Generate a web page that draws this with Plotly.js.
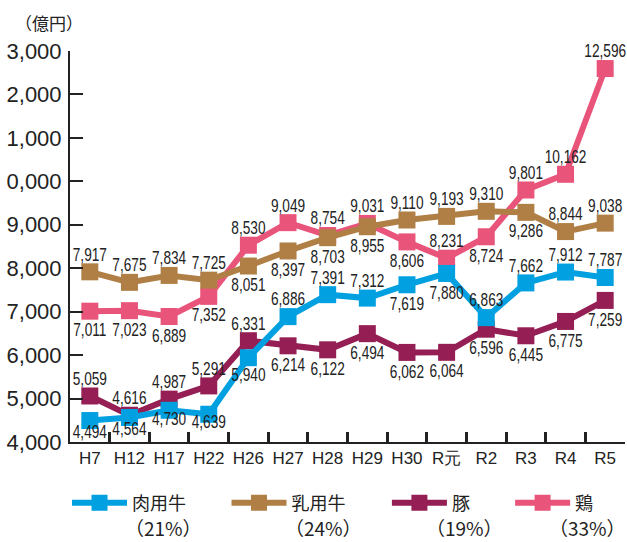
<!DOCTYPE html>
<html>
<head>
<meta charset="utf-8">
<script src="https://cdn.plot.ly/plotly-3.0.1.min.js"></script>
<style>
html,body{margin:0;padding:0;background:#fff;}
#chart{width:627px;height:542px;}
</style>
</head>
<body>
<div id="chart"></div>
<script>
// ---- data ----
const categories = ["H7","H12","H17","H22","H26","H27","H28","H29","H30","R元","R2","R3","R4","R5"];
const beefCattle = [4494,4564,4730,4639,5940,6886,7391,7312,7619,7880,6863,7662,7912,7787];
const dairyCattle = [7917,7675,7834,7725,8051,8397,8703,8955,9110,9193,9310,9286,8844,9038];
const pigs = [5059,4616,4987,5291,6331,6214,6122,6494,6062,6064,6596,6445,6775,7259];
const chickens = [7011,7023,6889,7352,8530,9049,8754,9031,8606,8231,8724,9801,10162,12596];
const seriesNames = ["肉用牛","乳用牛","豚","鶏"];
const shares = ["（21%）","（24%）","（19%）","（33%）"];
const yTickValues = [4000,5000,6000,7000,8000,9000,10000,11000,12000,13000];
const yTickLabels = ["4,000","5,000","6,000","7,000","8,000","9,000","0,000","1,000","2,000","3,000"];
const unitLabel = "（億円）";

// ---- label placement (style) ----
const T = "top center", B = "bottom center";
const beefPos  = [B,B,B,B,B,T,T,T,B,B,T,T,T,T];
const dairyPos = [T,T,T,T,B,B,B,B,T,T,T,B,T,T];
const pigPos   = [T,T,T,T,T,B,B,B,B,B,B,B,B,B];
const chickPos = [B,B,B,B,T,T,T,T,B,T,B,T,T,T];
// extra vertical nudges (px) for crowded labels near the x axis
const beefNudge = [-8,-8,-10,-11,-2,0,0,0,0,0,0,0,0,0];

const colors = {beef:"#00a0e1", dairy:"#b07f45", pig:"#951e54", chick:"#e9547b"};
const labelFont = {family:"'Liberation Sans', Arial, sans-serif", size:18, color:"#222"};

function mk(name, y, color, pos, legendId){
  return {
    type:"scatter", mode:"lines+markers+text", name:name,
    x:categories, y:y,
    line:{color:color, width:6},
    marker:{symbol:"square", size:17, color:color},
    texttemplate:"%{y:,}", textposition:pos, textfont:labelFont,
    cliponaxis:false, hoverinfo:"skip",
    legend:legendId
  };
}

// draw order: chickens, pigs, dairy, beef (beef on top)
const data = [
  mk(seriesNames[3], chickens, colors.chick, chickPos, "legend4"),
  mk(seriesNames[2], pigs, colors.pig, pigPos, "legend3"),
  mk(seriesNames[1], dairyCattle, colors.dairy, dairyPos, "legend2"),
  mk(seriesNames[0], beefCattle, colors.beef, beefPos, "legend")
];
const nudges = [null, null, null, beefNudge];

const cjk = "'Noto Sans CJK JP', 'Noto Sans', sans-serif";
function lg(x){
  return {orientation:"h", x:x, y:-0.156, xanchor:"left", yanchor:"middle",
    itemwidth:55, font:{family:cjk, size:18, color:"#222"},
    bgcolor:"rgba(0,0,0,0)", borderwidth:0, itemclick:false, itemdoubleclick:false};
}

const shareX = [0.1676, 0.4559, 0.7117, 0.9333];
const annotations = shares.map((s,i)=>({
  xref:"paper", yref:"paper", x:shareX[i], y:-0.218, xanchor:"center", yanchor:"middle",
  text:s, showarrow:false, font:{family:cjk, size:19, color:"#222"}
}));
annotations.push({
  xref:"paper", yref:"paper", x:-0.1027, y:1.074, xanchor:"left", yanchor:"middle",
  text:unitLabel, showarrow:false, font:{family:cjk, size:17, color:"#222"}
});

const layout = {
  width:627, height:542,
  margin:{l:70, r:2, t:51, b:100, pad:0},
  paper_bgcolor:"#fff", plot_bgcolor:"#fff",
  showlegend:true,
  xaxis:{
    type:"category", range:[-0.5,13.5], showgrid:false, zeroline:false,
    showline:true, linecolor:"#222", linewidth:2,
    ticks:"inside", tickson:"boundaries", ticklen:10, tickwidth:3, tickcolor:"#222",
    tickangle:0,
    tickfont:{family:"'Liberation Sans', Arial, sans-serif", size:17, color:"#222"},
    fixedrange:true
  },
  yaxis:{
    range:[4000,13000], showgrid:false, zeroline:false,
    showline:true, linecolor:"#222", linewidth:2,
    ticks:"inside", ticklen:13, tickwidth:2, tickcolor:"#222",
    tickmode:"array", tickvals:yTickValues, ticktext:yTickLabels,
    tickfont:{family:"'Liberation Sans', Arial, sans-serif", size:22, color:"#222"},
    ticklabelstandoff:2,
    fixedrange:true
  },
  legend:lg(-0.0054),
  legend2:lg(0.282),
  legend3:lg(0.571),
  legend4:lg(0.793),
  annotations:annotations
};

const gd = document.getElementById("chart");
Plotly.newPlot(gd, data, layout, {displayModeBar:false, staticPlot:true}).then(()=>{
  const traces = gd.querySelectorAll(".scatterlayer .trace");
  traces.forEach((tr, i)=>{
    const pos = data[i].textposition;
    const nud = nudges[i];
    tr.querySelectorAll(".textpoint text").forEach((t, j)=>{
      const dy = (pos[j] === T ? 5 : 0) + (nud ? nud[j] : 0);
      t.style.transformBox = "fill-box";
      t.style.transformOrigin = "center";
      t.style.transform = "translate(0px," + dy + "px) scaleX(0.76)";
    });
  });
});
</script>
</body>
</html>
